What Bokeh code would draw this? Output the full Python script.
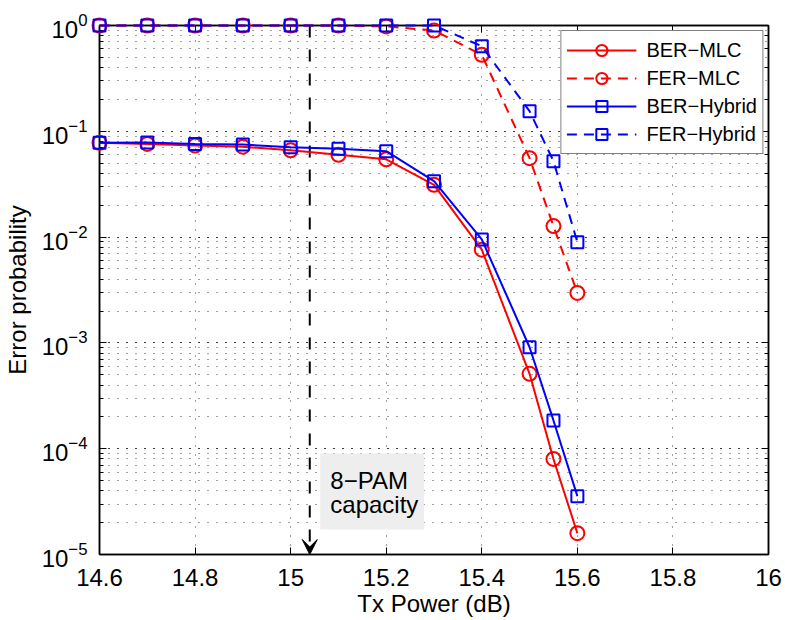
from bokeh.plotting import figure
from bokeh.models import (Range1d, LogAxis, LinearAxis, FixedTicker, LogTicker,
                          CustomJSTickFormatter, Legend, LegendItem, BoxAnnotation,
                          Label, Arrow, VeeHead, ColumnDataSource)
from bokeh.embed import file_html
from bokeh.resources import INLINE

# ---------------- data ----------------
x_power = [14.6, 14.7, 14.8, 14.9, 15.0, 15.1, 15.2, 15.3, 15.4, 15.5, 15.55, 15.6]
ber_mlc = [0.0778, 0.0760, 0.0734, 0.0715, 0.0662, 0.0600, 0.0543, 0.0312,
           0.0076, 5.1e-4, 8.0e-5, 1.59e-5]
fer_mlc = [1.0, 1.0, 1.0, 1.0, 1.0, 1.0, 0.98, 0.897, 0.528, 0.0557, 0.0127, 0.00297]
ber_hybrid = [0.0778, 0.0785, 0.0760, 0.0750, 0.0708, 0.0684, 0.0649, 0.0338,
              0.0095, 9.1e-4, 1.85e-4, 3.56e-5]
fer_hybrid = [1.0, 1.0, 1.0, 1.0, 1.0, 1.0, 1.0, 1.0, 0.637, 0.155, 0.0522, 0.00895]
series_labels = ["BER−MLC", "FER−MLC", "BER−Hybrid", "FER−Hybrid"]
x_ticks = [14.6, 14.8, 15.0, 15.2, 15.4, 15.6, 15.8, 16.0]
capacity_x = 15.04
annotation_lines = ["8−PAM", "capacity"]

FONT = "Liberation Sans"

p = figure(width=785, height=620, output_backend="svg", toolbar_location=None,
           x_range=Range1d(14.6, 16.0), y_range=Range1d(1e-5, 1.0),
           y_axis_type="log",
           min_border_left=98, min_border_right=17, min_border_top=25,
           min_border_bottom=66)
p.background_fill_color = "white"
p.border_fill_color = "white"
p.outline_line_color = "black"
p.outline_line_width = 1.5

xticker = FixedTicker(ticks=x_ticks)
xfmt = CustomJSTickFormatter(code="return String(Number(tick.toFixed(2)));")
blank = CustomJSTickFormatter(code="return '';")

xa = p.xaxis[0]
xa.ticker = xticker
xa.formatter = xfmt
p.xgrid.ticker = xticker
ya = p.yaxis[0]


def style_axis(ax):
    ax.axis_line_width = 1.5
    ax.axis_line_color = "black"
    ax.major_tick_in = 7
    ax.major_tick_out = 0
    ax.major_tick_line_color = "black"
    ax.major_tick_line_width = 1
    ax.minor_tick_in = 4
    ax.minor_tick_out = 0
    ax.minor_tick_line_color = "black"
    ax.major_label_text_font = FONT
    ax.major_label_text_font_size = "24px"
    ax.major_label_text_color = "black"
    ax.axis_label_text_font = FONT
    ax.axis_label_text_font_size = "24px"
    ax.axis_label_text_font_style = "normal"
    ax.axis_label_text_color = "black"


style_axis(xa)
style_axis(ya)
xa.minor_tick_line_color = None
xa.axis_label = "Tx Power (dB)"
xa.major_label_standoff = 14
xa.axis_label_standoff = 1
ya.axis_label = "Error probability"
ya.major_label_standoff = 12
ya.axis_label_standoff = 8

# mirrored axes (ticks only) on top and right, like a boxed MATLAB axes
top = LinearAxis(ticker=xticker, formatter=blank)
style_axis(top)
top.minor_tick_line_color = None
top.major_label_standoff = 0
p.add_layout(top, "above")
right = LogAxis(ticker=LogTicker(), formatter=blank)
style_axis(right)
right.major_label_standoff = 0
p.add_layout(right, "right")

# dotted grid
for g in (p.xgrid[0], p.ygrid[0]):
    g.grid_line_color = "black"
    g.grid_line_dash = "1 8"
    g.grid_line_width = 1
    g.grid_line_alpha = 0.75
p.ygrid[0].minor_grid_line_color = "black"
p.ygrid[0].minor_grid_line_dash = "1 8"
p.ygrid[0].minor_grid_line_alpha = 0.75


def add_series(yvals, color, dash, marker, size):
    src = ColumnDataSource(dict(x=x_power, y=yvals))
    ln = p.line("x", "y", source=src, line_color=color, line_width=2,
                line_dash=dash, level="overlay")
    sc = p.scatter("x", "y", source=src, marker=marker, size=size,
                   fill_color=None, line_color=color, line_width=2,
                   level="overlay")
    return [ln, sc]


r1 = add_series(ber_mlc, "#FF0000", "solid", "circle", 14)
r2 = add_series(fer_mlc, "#FF0000", "10 7", "circle", 14)
r3 = add_series(ber_hybrid, "#0000FF", "solid", "square", 12)
r4 = add_series(fer_hybrid, "#0000FF", "10 7", "square", 12)

legend = Legend(items=[LegendItem(label=series_labels[0], renderers=r1),
                       LegendItem(label=series_labels[1], renderers=r2),
                       LegendItem(label=series_labels[2], renderers=r3),
                       LegendItem(label=series_labels[3], renderers=r4)],
                location="top_right")
legend.label_text_font = FONT
legend.label_text_font_size = "20px"
legend.label_text_color = "black"
legend.glyph_width = 70
legend.glyph_height = 28
legend.label_height = 22
legend.label_standoff = 10
legend.spacing = 0
legend.padding = 5
legend.margin = 5
legend.border_line_color = "black"
legend.border_line_width = 1.5
legend.background_fill_color = "white"
legend.background_fill_alpha = 1.0
p.add_layout(legend)

# capacity annotation
box = BoxAnnotation(left=15.062, right=15.279, bottom=1.72e-5, top=9.0e-5,
                    fill_color="#EEEEEE", fill_alpha=1.0, line_alpha=0)
p.add_layout(box)
p.add_layout(Label(x=15.083, y=5.0e-5, text=annotation_lines[0],
                   text_font=FONT, text_font_size="24px", text_color="black",
                   text_baseline="middle", text_align="left"))
p.add_layout(Label(x=15.083, y=3.0e-5, text=annotation_lines[1],
                   text_font=FONT, text_font_size="24px", text_color="black",
                   text_baseline="middle", text_align="left"))
p.add_layout(Arrow(x_start=capacity_x, y_start=1.0, x_end=capacity_x, y_end=1e-5,
                   line_color="black", line_width=2, line_dash="12 12",
                   end=VeeHead(size=15, fill_color="black", line_color="black",
                               line_width=1)))

open("out.html", "w").write(file_html(p, INLINE))
